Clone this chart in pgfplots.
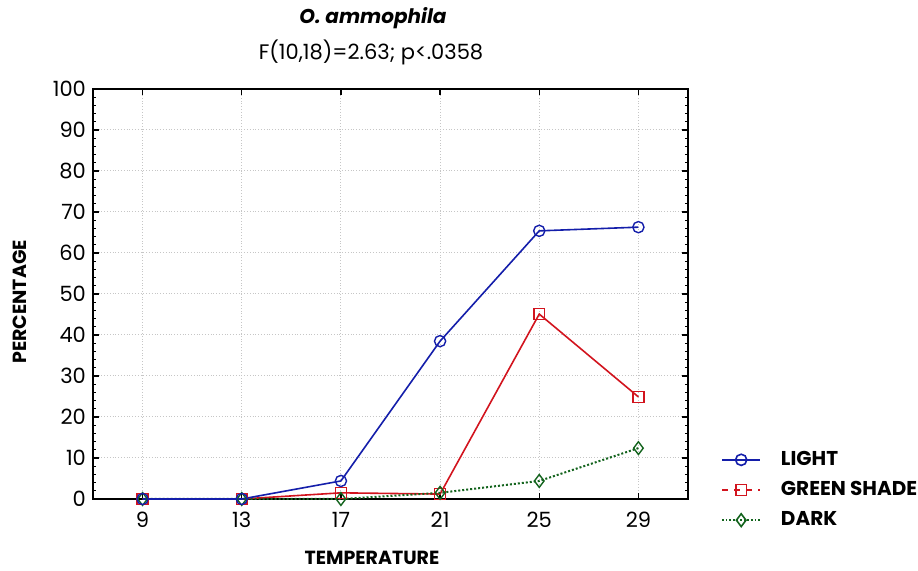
\documentclass[border=0pt]{standalone}
\usepackage{pgfplots}
\pgfplotsset{compat=1.18}
\usepackage{fontspec}
\setmainfont{Poppins}
\definecolor{lblue}{RGB}{20,30,170}
\definecolor{lred}{RGB}{210,20,30}
\definecolor{lgreen}{RGB}{20,100,30}

\begin{document}
\begin{tikzpicture}
\path[use as bounding box] (0pt,0pt) rectangle (459pt,285.5pt);
\begin{axis}[at={(46.5pt,36pt)}, anchor=south west, scale only axis,
  width=297.5pt, height=205pt,
  xmin=7, xmax=31, ymin=0, ymax=100,
  xtick={9,13,17,21,25,29}, ytick={0,10,...,100},
  minor y tick num=4,
  tick align=inside, major tick length=3pt, minor tick length=1.5pt,
  every tick/.style={black, line width=0.6pt},
  axis line style={line width=1pt},
  grid=major, major grid style={densely dotted, gray!45, line width=0.5pt},
  tick label style={font=\fontsize{10.5}{12}\selectfont},
  xticklabel style={yshift=-3pt},
  /pgf/number format/assume math mode=true,
  clip=false,
  legend style={draw=none, fill=none, at={(axis description cs:1,0.022)}, anchor=west,
    xshift=13.5pt, font=\fontsize{10}{12}\selectfont\bfseries, row sep=2.5pt,
    cells={anchor=west}},
  legend cell align=left,
  legend image code/.code={
    \draw[mark repeat=2, mark phase=2, #1] plot coordinates {(0pt,0pt) (9.5pt,0pt) (19pt,0pt)};
    \path (27pt,0pt);},
  mark options={solid, fill=white, line width=0.7pt}]
\addplot[lred, line width=0.8pt, mark=square, mark size=2.7pt, forget plot]
  coordinates {(9,0) (13,0) (17,1.5) (21,1.2) (25,45.1) (29,24.9)};
\addplot[lgreen, densely dotted, line width=1pt, mark=diamond, mark size=3.2pt, forget plot]
  coordinates {(9,0) (13,0) (17,0) (21,1.5) (25,4.4) (29,12.4)};
\addplot[lblue, line width=0.8pt, mark=o, mark size=2.8pt, forget plot]
  coordinates {(9,0) (13,0) (17,4.4) (21,38.5) (25,65.4) (29,66.3)};
\addlegendimage{lblue, line width=0.8pt, mark=o, mark size=2.8pt, mark options={solid,fill=white}}
\addlegendentry{LIGHT}
\addlegendimage{lred, dashed, line width=0.8pt, mark=square, mark size=2.7pt, mark options={solid,fill=white}}
\addlegendentry{GREEN SHADE}
\addlegendimage{lgreen, densely dotted, line width=0.8pt, mark=diamond, mark size=3.2pt, mark options={solid,fill=white}}
\addlegendentry{DARK}
\end{axis}
\node at (186.5pt,276.5pt) {\fontsize{10}{12}\selectfont\bfseries\itshape O. ammophila};
\node at (185.5pt,259.5pt) {\fontsize{10.5}{12}\selectfont F(10,18)=2.63; p<.0358};
\node[rotate=90] at (10pt,134.5pt) {\fontsize{9.5}{11}\selectfont\bfseries PERCENTAGE};
\node at (186pt,6.5pt) {\fontsize{9.5}{11}\selectfont\bfseries TEMPERATURE};
\end{tikzpicture}
\end{document}
